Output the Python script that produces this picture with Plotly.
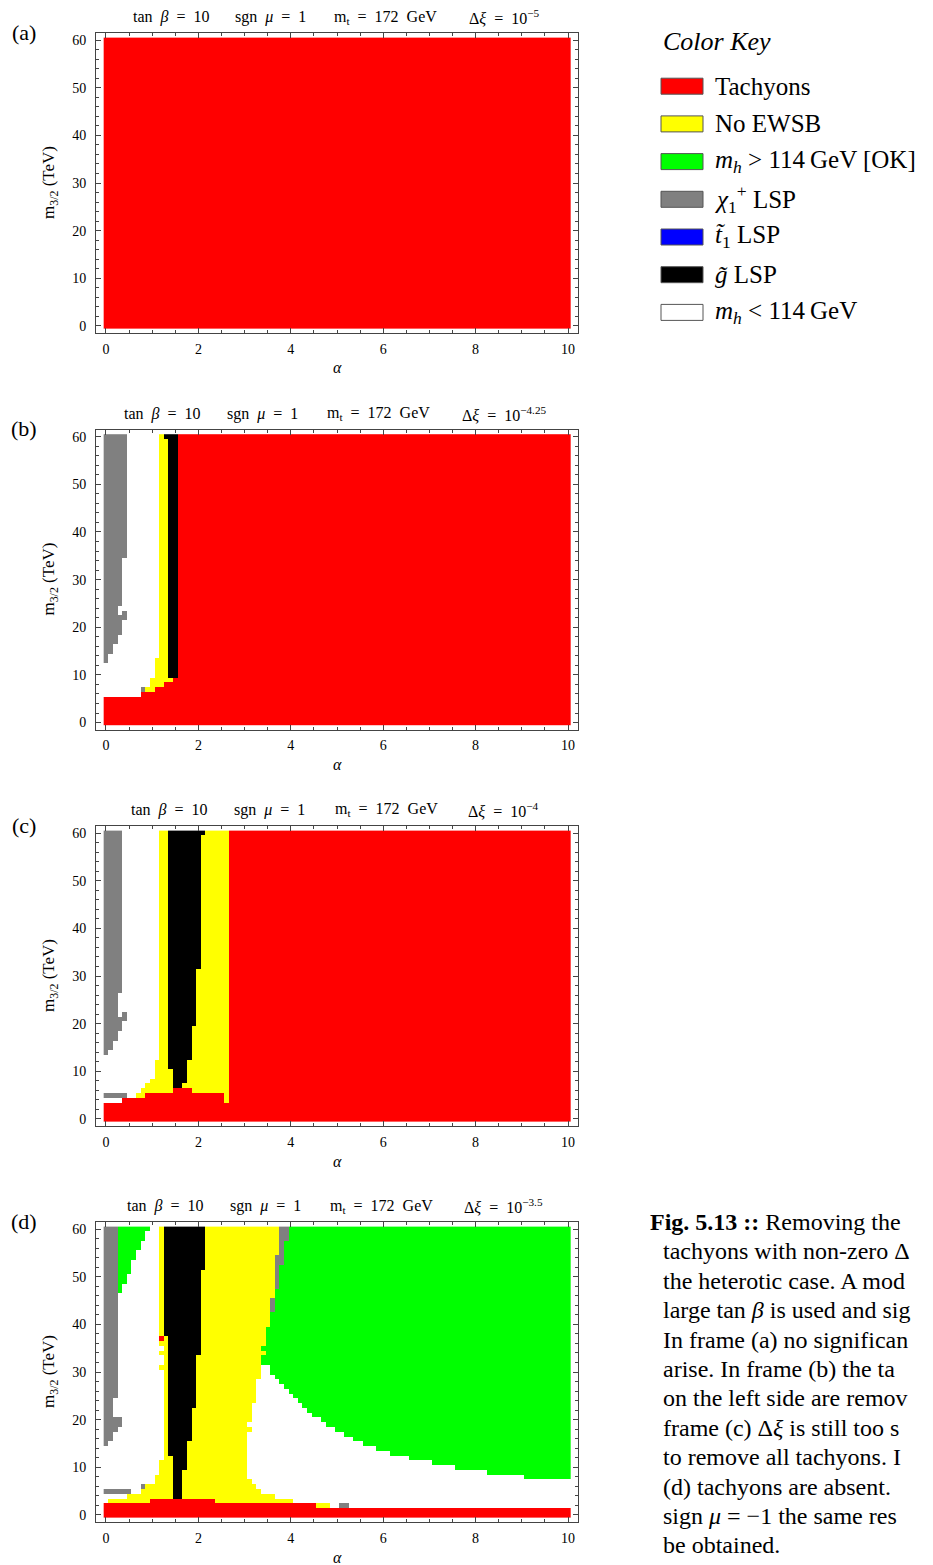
import plotly.graph_objects as go

W, H = 933, 1565

# ---------------- data grid ----------------
ALPHA = [round(0.1 * i, 1) for i in range(101)]      # alpha grid (0 .. 10, step 0.1)
M32 = list(range(61))                                 # m_3/2 grid in TeV (0 .. 60)

CATEGORIES = ["W", "R", "Y", "G", "S", "B", "K"]
CAT_COLORS = ["#ffffff", "#ff0000", "#ffff00", "#00ff00", "#808080", "#0000ff", "#000000"]

# Each band: (top row m, bottom row m, runs "CatStartAlpha ...")
PANEL_A = [(60, 0, "R0")]

PANEL_B = [
    (60, 60, "S0 W0.5 Y1.2 K1.3 R1.6"),
    (59, 35, "S0 W0.5 Y1.2 K1.4 R1.6"),
    (34, 25, "S0 W0.4 Y1.2 K1.4 R1.6"),
    (24, 24, "S0 W0.3 Y1.2 K1.4 R1.6"),
    (23, 23, "S0 W0.3 S0.4 W0.5 Y1.2 K1.4 R1.6"),
    (22, 22, "S0 W0.5 Y1.2 K1.4 R1.6"),
    (21, 19, "S0 W0.4 Y1.2 K1.4 R1.6"),
    (18, 17, "S0 W0.3 Y1.2 K1.4 R1.6"),
    (16, 15, "S0 W0.2 Y1.2 K1.4 R1.6"),
    (14, 14, "S0 W0.1 Y1.2 K1.4 R1.6"),
    (13, 13, "S0 W0.1 Y1.1 K1.4 R1.6"),
    (12, 10, "W0 Y1.1 K1.4 R1.6"),
    (9, 9, "W0 Y1.0 R1.5"),
    (8, 8, "W0 Y1.0 R1.3"),
    (7, 7, "W0 S0.8 Y0.9 R1.1"),
    (6, 6, "W0 R0.8"),
    (5, 0, "R0"),
]

PANEL_C = [
    (60, 60, "S0 W0.4 Y1.2 K1.4 Y2.2 R2.7"),
    (59, 32, "S0 W0.4 Y1.2 K1.4 Y2.1 R2.7"),
    (31, 27, "S0 W0.4 Y1.2 K1.4 Y2.0 R2.7"),
    (26, 23, "S0 W0.3 Y1.2 K1.4 Y2.0 R2.7"),
    (22, 22, "S0 W0.3 S0.4 W0.5 Y1.2 K1.4 Y2.0 R2.7"),
    (21, 21, "S0 W0.5 Y1.2 K1.4 Y2.0 R2.7"),
    (20, 20, "S0 W0.4 Y1.2 K1.4 Y2.0 R2.7"),
    (19, 19, "S0 W0.4 Y1.2 K1.4 Y1.9 R2.7"),
    (18, 17, "S0 W0.3 Y1.2 K1.4 Y1.9 R2.7"),
    (16, 15, "S0 W0.2 Y1.2 K1.4 Y1.9 R2.7"),
    (14, 14, "S0 W0.1 Y1.2 K1.4 Y1.9 R2.7"),
    (13, 13, "W0 Y1.2 K1.4 Y1.9 R2.7"),
    (12, 11, "W0 Y1.1 K1.4 Y1.8 R2.7"),
    (10, 9, "W0 Y1.1 K1.5 Y1.8 R2.7"),
    (8, 8, "W0 Y1.0 K1.5 Y1.8 R2.7"),
    (7, 7, "W0 Y0.9 K1.5 Y1.7 R2.7"),
    (6, 6, "W0 Y0.8 R1.5 Y1.9 R2.7"),
    (5, 5, "S0 W0.5 Y0.7 R0.9 Y2.6 R2.7"),
    (4, 4, "W0 R0.4 Y2.6 R2.7"),
    (3, 0, "R0"),
]

PANEL_D = [
    (60, 60, "S0 G0.3 W1.0 Y1.2 K1.3 Y2.2 S3.8 G4.0"),
    (59, 58, "S0 G0.3 W0.9 Y1.2 K1.3 Y2.2 S3.8 G4.0"),
    (57, 56, "S0 G0.3 W0.8 Y1.2 K1.3 Y2.2 S3.8 G3.9"),
    (55, 55, "S0 G0.3 W0.7 Y1.2 K1.3 Y2.2 S3.8 G3.9"),
    (54, 54, "S0 G0.3 W0.7 Y1.2 K1.3 Y2.2 S3.7 G3.9"),
    (53, 53, "S0 G0.3 W0.6 Y1.2 K1.3 Y2.2 S3.7 G3.9"),
    (52, 52, "S0 G0.3 W0.6 Y1.2 K1.3 Y2.2 S3.7 G3.8"),
    (51, 51, "S0 G0.3 W0.6 Y1.2 K1.3 Y2.1 S3.7 G3.8"),
    (50, 49, "S0 G0.3 W0.5 Y1.2 K1.3 Y2.1 S3.7 G3.8"),
    (48, 48, "S0 G0.3 W0.4 Y1.2 K1.3 Y2.1 S3.7 G3.8"),
    (47, 47, "S0 G0.3 W0.4 Y1.2 K1.3 Y2.1 G3.7"),
    (46, 46, "S0 W0.3 Y1.2 K1.3 Y2.1 G3.7"),
    (45, 43, "S0 W0.3 Y1.2 K1.3 Y2.1 S3.6 G3.7"),
    (42, 40, "S0 W0.3 Y1.2 K1.3 Y2.1 G3.6"),
    (39, 38, "S0 W0.3 Y1.2 K1.3 Y2.1 G3.5"),
    (37, 37, "S0 W0.3 R1.2 Y1.3 K1.4 Y2.1 G3.5"),
    (36, 36, "S0 W0.3 Y1.2 K1.4 Y2.1 G3.5"),
    (35, 35, "S0 W0.3 Y1.3 K1.4 Y2.1 G3.4"),
    (34, 34, "S0 W0.3 Y1.2 K1.4 Y2.1 G3.5"),
    (33, 32, "S0 W0.3 Y1.3 K1.4 Y2.0 G3.4"),
    (31, 31, "S0 W0.3 Y1.2 K1.4 Y2.0 W3.4 G3.6"),
    (30, 30, "S0 W0.3 Y1.3 K1.4 Y2.0 W3.4 G3.6"),
    (29, 29, "S0 W0.3 Y1.3 K1.4 Y2.0 W3.4 G3.7"),
    (28, 28, "S0 W0.3 Y1.3 K1.4 Y2.0 W3.3 G3.8"),
    (27, 27, "S0 W0.3 Y1.3 K1.4 Y2.0 W3.3 G3.9"),
    (26, 26, "S0 W0.3 Y1.3 K1.4 Y2.0 W3.3 G4.0"),
    (25, 25, "S0 W0.3 Y1.3 K1.4 Y2.0 W3.3 G4.1"),
    (24, 24, "S0 W0.2 Y1.3 K1.4 Y2.0 W3.3 G4.2"),
    (23, 23, "S0 W0.2 Y1.3 K1.4 Y2.0 W3.2 G4.3"),
    (22, 22, "S0 W0.2 Y1.3 K1.4 Y1.9 W3.2 G4.4"),
    (21, 21, "S0 W0.2 Y1.3 K1.4 Y1.9 W3.2 G4.5"),
    (20, 20, "S0 W0.4 Y1.3 K1.4 Y1.9 W3.2 G4.7"),
    (19, 19, "S0 W0.4 Y1.3 K1.4 Y1.9 W3.1 G4.8"),
    (18, 18, "S0 W0.3 Y1.3 K1.4 Y1.9 W3.2 G5.0"),
    (17, 17, "S0 W0.2 Y1.3 K1.4 Y1.9 W3.1 G5.2"),
    (16, 16, "S0 W0.2 Y1.3 K1.4 Y1.9 W3.1 G5.4"),
    (15, 15, "S0 W0.1 Y1.3 K1.4 Y1.8 W3.1 G5.6"),
    (14, 14, "W0 Y1.3 K1.4 Y1.8 W3.1 G5.9"),
    (13, 13, "W0 Y1.3 K1.4 Y1.8 W3.1 G6.2"),
    (12, 12, "W0 Y1.3 K1.5 Y1.8 W3.1 G6.6"),
    (11, 11, "W0 Y1.2 K1.5 Y1.8 W3.1 G7.1"),
    (10, 10, "W0 Y1.2 K1.5 Y1.8 W3.1 G7.6"),
    (9, 9, "W0 Y1.2 K1.5 Y1.7 W3.1 G8.3"),
    (8, 8, "W0 Y1.1 K1.5 Y1.7 W3.1 G9.1"),
    (7, 7, "W0 Y1.1 K1.5 Y1.7 W3.2"),
    (6, 6, "W0 S0.8 Y0.9 K1.5 Y1.7 W3.3"),
    (5, 5, "S0 W0.6 Y0.8 K1.5 Y1.7 W3.4"),
    (4, 4, "W0 Y0.5 K1.5 Y1.7 W3.7"),
    (3, 3, "W0 Y0.1 R1.0 Y2.4 W4.1"),
    (2, 2, "R0 Y4.6 W4.9 S5.1 W5.3"),
    (1, 0, "R0"),
]

PANELS = [PANEL_A, PANEL_B, PANEL_C, PANEL_D]
PANEL_LETTERS = ["(a)", "(b)", "(c)", "(d)"]
DXI_EXP = ["−5", "−4.25", "−4", "−3.5"]
TAN_BETA = "10"
SGN_MU = "1"
M_TOP = "172"

X_TICKS = [0, 2, 4, 6, 8, 10]
Y_TICKS = [0, 10, 20, 30, 40, 50, 60]

KEY_LABELS = [
    "Tachyons",
    "No EWSB",
    "<i>m</i><sub><i>h</i></sub> &gt; 114\u2009GeV [OK]",
    "<i>χ</i><sub>1</sub><sup>+</sup> LSP",
    "<i>t\u0303</i><sub>1</sub> LSP",
    "<i>g\u0303</i> LSP",
    "<i>m</i><sub><i>h</i></sub> &lt; 114\u2009GeV",
]
KEY_COLORS = ["#ff0000", "#ffff00", "#00ff00", "#808080", "#0000ff", "#000000", "#ffffff"]

CAPTION = [
    "<b>Fig. 5.13 ::</b> Removing the",
    "tachyons with non-zero Δ",
    "the heterotic case. A mod",
    "large tan <i>β</i> is used and sig",
    "In frame (a) no significan",
    "arise. In frame (b) the ta",
    "on the left side are remov",
    "frame (c) Δ<i>ξ</i> is still too s",
    "to remove all tachyons. I",
    "(d) tachyons are absent.",
    "sign <i>μ</i> = −1 the same res",
    "be obtained.",
]


def build_z(bands):
    z = [[0] * len(ALPHA) for _ in M32]
    for top, bot, spec in bands:
        runs = [(tok[0], float(tok[1:])) for tok in spec.split()]
        for m in range(bot, top + 1):
            for j, a in enumerate(ALPHA):
                cat = runs[0][0]
                for c, s in runs:
                    if a >= s - 1e-6:
                        cat = c
                z[m][j] = CATEGORIES.index(cat)
    return z


# ---------------- layout geometry (pixels) ----------------
FRAME_LEFT, FRAME_RIGHT = 96, 578
FRAME_TOPS = [33, 429.6, 826, 1222]
FRAME_H = 300
TITLE_CENTERS = [
    [171, 270.5, 385.5, 503.5],
    [162, 262.5, 378, 503.5],
    [169, 269.5, 386, 503],
    [165, 265.5, 381.5, 503.5],
]
SERIF = "Liberation Serif"
NB = "\u00a0"


def px(x):
    return x / W


def py(y):
    return 1 - y / H


n = len(CATEGORIES)
colorscale = []
for i, c in enumerate(CAT_COLORS):
    colorscale.append([i / n, c])
    colorscale.append([(i + 1) / n, c])

fig = go.Figure()
annotations = []
shapes = []
layout_axes = {}

for i, bands in enumerate(PANELS):
    k = i + 1
    xa = "x" if k == 1 else f"x{k}"
    ya = "y" if k == 1 else f"y{k}"
    fig.add_trace(go.Heatmap(
        x=ALPHA, y=M32, z=build_z(bands),
        colorscale=colorscale, zmin=-0.5, zmax=n - 0.5,
        showscale=False, hoverinfo="skip", xaxis=xa, yaxis=ya,
    ))
    top = FRAME_TOPS[i]
    bot = top + FRAME_H
    axis_common = dict(
        ticks="inside", ticklen=5, tickwidth=1, tickcolor="#444",
        showline=True, linecolor="#444", linewidth=1, mirror="ticks",
        showgrid=False, zeroline=False,
        tickfont=dict(family=SERIF, size=14, color="black"),
    )
    layout_axes[f"xaxis{'' if k == 1 else k}"] = dict(
        domain=[px(FRAME_LEFT), px(FRAME_RIGHT)], range=[-0.216, 10.216],
        anchor=ya, tickvals=X_TICKS,
        minor=dict(dtick=0.5, tick0=0, ticks="inside", ticklen=3, tickcolor="#444", showgrid=False),
        ticklabelstandoff=3, **axis_common,
    )
    layout_axes[f"yaxis{'' if k == 1 else k}"] = dict(
        domain=[py(bot), py(top)], range=[-1.47, 61.47],
        anchor=xa, tickvals=Y_TICKS,
        minor=dict(dtick=2, tick0=0, ticks="inside", ticklen=3, tickcolor="#444", showgrid=False),
        ticklabelstandoff=6, **axis_common,
    )

    # panel letter
    annotations.append(dict(x=px(24), y=py(top - 1), text=PANEL_LETTERS[i], showarrow=False,
                            xref="paper", yref="paper", xanchor="center", yanchor="middle",
                            font=dict(family=SERIF, size=22, color="black")))
    # title parts
    g = NB * 2
    parts = [
        f"tan{g}<i>β</i>{g}={g}{TAN_BETA}",
        f"sgn{g}<i>μ</i>{g}={g}{SGN_MU}",
        f"m<sub>t</sub>{g}={g}{M_TOP}{g}GeV",
        f"Δ<i>ξ</i>{g}={g}10<sup>{DXI_EXP[i]}</sup>",
    ]
    for t, cx in zip(parts, TITLE_CENTERS[i]):
        annotations.append(dict(x=px(cx), y=py(top - 16), text=t, showarrow=False,
                                xref="paper", yref="paper", xanchor="center", yanchor="middle",
                                font=dict(family=SERIF, size=16, color="black")))
    # axis titles
    annotations.append(dict(x=px(337), y=py(bot + 35), text="<i>α</i>", showarrow=False,
                            xref="paper", yref="paper", xanchor="center", yanchor="middle",
                            font=dict(family=SERIF, size=16, color="black")))
    annotations.append(dict(x=px(50), y=py(top + 150), text="m<sub>3/2</sub> (TeV)", showarrow=False,
                            xref="paper", yref="paper", xanchor="center", yanchor="middle",
                            textangle=-90, font=dict(family=SERIF, size=17, color="black")))

# ---------------- colour key ----------------
annotations.append(dict(x=px(661), y=py(41), text="<i>Color Key</i>", showarrow=False,
                        xref="paper", yref="paper", xanchor="left", yanchor="middle",
                        font=dict(family=SERIF, size=26, color="black")))
KEY_Y0, KEY_DY = 86.2, 37.7
for j, (lab, col) in enumerate(zip(KEY_LABELS, KEY_COLORS)):
    cy = KEY_Y0 + j * KEY_DY
    shapes.append(dict(type="rect", xref="paper", yref="paper",
                       x0=px(661), x1=px(703), y0=py(cy + 8), y1=py(cy - 8),
                       fillcolor=col, line=dict(color="#555", width=1)))
    annotations.append(dict(x=px(713), y=py(cy), text=lab, showarrow=False,
                            xref="paper", yref="paper", xanchor="left", yanchor="middle",
                            font=dict(family=SERIF, size=25, color="black")))

# ---------------- caption ----------------
for j, line in enumerate(CAPTION):
    annotations.append(dict(x=px(648 if j == 0 else 661), y=py(1222 + 29.4 * j), text=line,
                            showarrow=False, xref="paper", yref="paper",
                            xanchor="left", yanchor="middle",
                            font=dict(family=SERIF, size=24, color="black")))

fig.update_layout(
    width=W, height=H, margin=dict(l=0, r=0, t=0, b=0),
    paper_bgcolor="white", plot_bgcolor="white", showlegend=False,
    annotations=annotations, shapes=shapes, **layout_axes,
)

fig.write_html("out.html")
